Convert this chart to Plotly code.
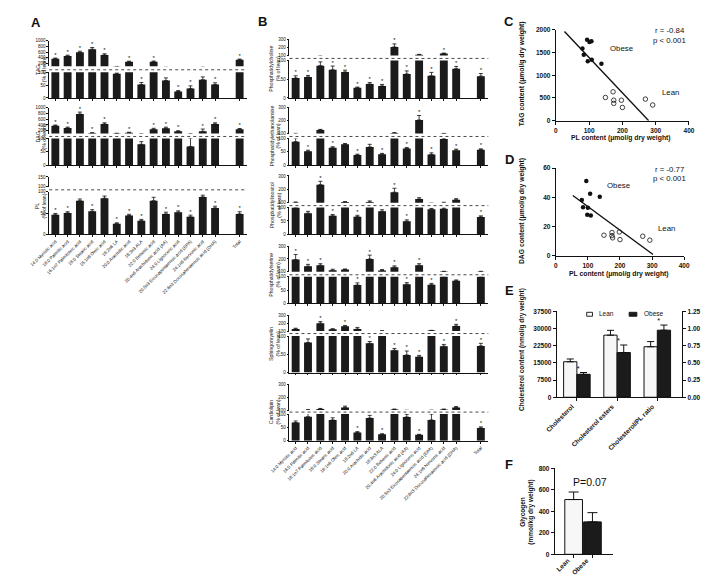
import plotly.graph_objects as go

W, H = 714, 576
FONT = "Arial, Liberation Sans, sans-serif"
INK = "#111111"
BAR = "#1b1b1b"
LEAN_FILL = "#f7f7f7"

# ------------------------------------------------------------------ data
fatty_acids = ["14:0 Myristic acid", "16:0 Palmitic acid", "16:1n7 Palmitoleic acid",
               "18:0 Stearic acid", "18:1n9 Oleic acid", "18:2n6 LA", "20:0 Arachidic acid",
               "18:3n3 ALA", "22:0 Behenic acid", "20:4n6 Arachidonic acid (AA)",
               "24:0 Lignoceric acid", "20:5n3 Eicosapentaenoic acid (EPA)",
               "24:1n9 Nervonic acid", "22:6n3 Docosahexaenoic acid (DHA)"]
total_label = "Total"

# Panel A (% of lean)
tag_vals = [370, 460, 590, 700, 500, 94, 260, 52, 260, 68, 25, 37, 71, 52, 330]
tag_err = [20, 30, 40, 60, 40, 3, 20, 8, 25, 10, 4, 10, 11, 7, 25]
tag_sig = [1, 1, 1, 1, 1, 0, 1, 1, 1, 0, 1, 1, 0, 1, 1]

dag_vals = [376, 294, 780, 118, 435, 103, 130, 78, 247, 282, 176, 70, 176, 435, 250]
dag_err = [20, 30, 70, 10, 40, 3, 15, 10, 35, 40, 20, 30, 80, 40, 25]
dag_sig = [1, 1, 1, 1, 1, 0, 1, 0, 1, 1, 1, 0, 1, 1, 1]

pl_vals = [46, 50, 79, 54, 85, 25, 44, 32, 79, 48, 52, 41, 88, 62, 48]
pl_err = [3, 3, 4, 4, 5, 2, 3, 3, 8, 4, 3, 4, 4, 4, 5]
pl_sig = [1, 1, 0, 1, 0, 1, 1, 1, 0, 1, 1, 1, 0, 1, 1]

# Panel B (% of lean)
pc_vals = [53, 56, 86, 75, 69, 27, 37, 32, 208, 64, 110, 59, 125, 78, 58]
pc_err = [6, 4, 10, 10, 5, 2, 4, 4, 38, 8, 4, 9, 5, 6, 7]
pc_sig = [1, 1, 0, 1, 1, 1, 1, 1, 1, 1, 0, 1, 1, 1, 1]

pe_vals = [88, 52, 128, 65, 78, 38, 68, 41, 104, 62, 205, 40, 98, 56, 58]
pe_err = [13, 4, 4, 4, 3, 3, 10, 3, 3, 4, 35, 6, 3, 4, 3]
pe_sig = [0, 1, 0, 1, 0, 1, 0, 1, 0, 1, 1, 1, 0, 1, 1]

pi_vals = [100, 79, 235, 69, 104, 66, 105, 86, 178, 49, 127, 94, 96, 122, 65]
pi_err = [5, 7, 25, 5, 4, 5, 8, 6, 30, 5, 10, 3, 7, 8, 4]
pi_sig = [0, 0, 1, 1, 0, 1, 0, 0, 1, 1, 0, 0, 0, 0, 1]

ps_vals = [195, 143, 151, 112, 118, 69, 200, 110, 136, 72, 151, 70, 102, 85, 101]
ps_err = [40, 15, 12, 8, 4, 8, 30, 8, 10, 6, 12, 5, 2, 3, 3]
ps_sig = [1, 1, 1, 0, 0, 1, 1, 0, 1, 1, 1, 1, 0, 0, 0]

sm_vals = [126, 82, 200, 122, 161, 126, 80, 102, 61, 48, 43, 106, 72, 165, 73]
sm_err = [10, 10, 20, 8, 10, 20, 5, 2, 5, 11, 4, 3, 5, 20, 7]
sm_sig = [0, 0, 1, 0, 1, 0, 1, 0, 1, 1, 1, 0, 1, 1, 1]

cl_vals = [68, 90, 108, 78, 121, 31, 85, 24, 105, 89, 22, 78, 105, 120, 48]
cl_err = [6, 15, 5, 8, 10, 3, 10, 2, 3, 10, 2, 22, 3, 8, 4]
cl_sig = [0, 0, 0, 0, 0, 1, 0, 1, 0, 0, 1, 0, 0, 0, 1]

# Panel C (PL vs TAG, umol/g dry weight)
c_obese_pl = [80, 84, 94, 101, 107, 96, 108, 137]
c_obese_tag = [1590, 1450, 1780, 1730, 1745, 1310, 1340, 1250]
c_lean_pl = [149, 172, 174, 174, 197, 200, 269, 291]
c_lean_tag = [510, 635, 450, 380, 450, 290, 475, 345]
c_fit_slope, c_fit_intercept, c_fit_x = -7.76, 2165, [26, 279]

# Panel D (PL vs DAG)
d_obese_pl = [95, 107, 81, 137, 85, 100, 98, 109]
d_obese_dag = [51.2, 42.5, 38.2, 40.4, 33.3, 33.0, 28.1, 27.6]
d_lean_pl = [150, 175, 175, 177, 198, 200, 271, 293]
d_lean_dag = [14.2, 16.0, 13.9, 12.4, 16.4, 11.2, 13.5, 10.8]
d_fit_slope, d_fit_intercept, d_fit_x = -0.161, 49.8, [53, 303]

# Panel E
e_cats = ["Cholesterol", "Cholesterol esters", "Cholesterol/PL ratio"]
e_lean = [15500, 27100, 0.735]
e_lean_err = [1200, 2100, 0.075]
e_obese = [10000, 19500, 0.975]
e_obese_err = [800, 3300, 0.075]

# Panel F
f_cats = ["Lean", "Obese"]
f_vals = [510, 302]
f_err = [70, 86]

# ------------------------------------------------------------------ helpers
fig = go.Figure()
layout = {}
annotations = []
shapes = []
counter = {"x": 0, "y": 0}


def new_axis(letter):
    counter[letter] += 1
    n = counter[letter]
    return (letter if n == 1 else f"{letter}{n}"), (f"{letter}axis" if n == 1 else f"{letter}axis{n}")


def px_x(a):
    return a / W


def px_y(a):
    return 1 - a / H


def note(text, x, y, size, bold=False, angle=0, xanchor="center", yanchor="middle"):
    annotations.append(dict(text=text, x=px_x(x), y=px_y(y), xref="paper", yref="paper",
                            showarrow=False, textangle=angle, xanchor=xanchor, yanchor=yanchor,
                            font=dict(family=FONT, size=size, color=INK,
                                      weight="bold" if bold else "normal")))


small_axis = dict(showline=True, linecolor=INK, linewidth=0.8, ticks="outside", ticklen=2,
                  tickwidth=0.8, tickcolor=INK, showgrid=False, zeroline=False,
                  tickfont=dict(family=FONT, size=4.5, color=INK), fixedrange=True)
big_axis = dict(showline=True, linecolor=INK, linewidth=1.1, ticks="outside", ticklen=3,
                tickwidth=1.1, tickcolor=INK, showgrid=False, zeroline=False,
                tickfont=dict(family=FONT, size=6.5, color=INK, weight="bold"), fixedrange=True)

bar_pos = [i if i < len(fatty_acids) else i + 1 for i in range(len(fatty_acids) + 1)]
bar_labels = fatty_acids + [total_label]


def broken_panel(vals, err, sig, up_range, up_ticks, title, title_x, xpx, geom, show_labels):
    xr, xname = new_axis("x")
    ylr, ylname = new_axis("y")
    yur, yuname = new_axis("y")
    up_top, up_bot, dot_y, lo_top, lo_bot = geom
    layout[xname] = dict(small_axis, domain=[px_x(xpx[0]), px_x(xpx[1])], anchor=ylr,
                         range=[-0.5, 15.6], tickmode="array", tickvals=bar_pos,
                         ticktext=bar_labels, showticklabels=show_labels, tickangle=-45)
    layout[ylname] = dict(small_axis, domain=[px_y(lo_bot), px_y(lo_top)], anchor=xr,
                          range=[0, 100], tickvals=[0, 50, 100])
    layout[yuname] = dict(small_axis, domain=[px_y(up_bot), px_y(up_top)], anchor=xr,
                          range=up_range, tickvals=up_ticks, tickformat="d")
    for yr in (ylr, yur):
        fig.add_trace(go.Bar(x=bar_pos, y=vals, width=0.64,
                             marker=dict(color=BAR, line=dict(width=0)),
                             error_y=dict(type="data", symmetric=False, array=err,
                                          arrayminus=[0] * len(err), color=INK,
                                          thickness=0.8, width=2),
                             xaxis=xr, yaxis=yr, showlegend=False, hoverinfo="skip"))
    for yr, keep in ((ylr, lambda v: v <= 100), (yur, lambda v: v > 100)):
        sx = [p for p, v, s in zip(bar_pos, vals, sig) if s and keep(v)]
        sy = [v + e for v, e, s in zip(vals, err, sig) if s and keep(v)]
        fig.add_trace(go.Scatter(x=sx, y=sy, mode="text", text=["*"] * len(sx),
                                 textposition="top center", cliponaxis=False,
                                 textfont=dict(family=FONT, size=6, color=INK),
                                 xaxis=xr, yaxis=yr, showlegend=False, hoverinfo="skip"))
    shapes.append(dict(type="line", xref="paper", yref="paper", x0=px_x(xpx[0]),
                       x1=px_x(xpx[1]), y0=px_y(dot_y), y1=px_y(dot_y),
                       line=dict(color="#333333", width=0.9, dash="dot")))
    note(title + "<br>(% of lean)", title_x, (up_top + lo_bot) / 2, 5.2, angle=-90)


# ------------------------------------------------------------------ panel A
A_X = (23, 228)
broken_panel(tag_vals, tag_err, tag_sig, [100, 1000], [200, 400, 600, 800, 1000], "TAG", 14.5,
             A_X, (29, 55, 58.5, 61, 87), False)
broken_panel(dag_vals, dag_err, dag_sig, [100, 1000], [200, 400, 600, 800, 1000], "DAG", 14.5,
             A_X, (97, 123, 126, 128, 155), False)
broken_panel(pl_vals, pl_err, pl_sig, [100, 150], [100, 150], "PL", 14.5,
             A_X, (167, 177, 180, 182, 225), True)

# ------------------------------------------------------------------ panel B
B_X = (272, 478)
b_panels = [
    (pc_vals, pc_err, pc_sig, "Phosphatidylcholine", (28, 44, 47, 49, 87)),
    (pe_vals, pe_err, pe_sig, "Phosphatidylethanolamine", (97, 123, 126, 128, 155)),
    (pi_vals, pi_err, pi_sig, "Phosphatidylinositol", (166, 193, 196, 198, 225)),
    (ps_vals, ps_err, ps_sig, "Phosphatidylserine", (237, 263, 266, 268, 295)),
    (sm_vals, sm_err, sm_sig, "Sphingomyelin", (307, 323, 325.5, 328, 365)),
    (cl_vals, cl_err, cl_sig, "Cardiolipin", (377, 403, 405, 407, 434)),
]
for k, (v, e, s, t, g) in enumerate(b_panels):
    broken_panel(v, e, s, [100, 300], [100, 200, 300], t, 257, B_X, g, k == len(b_panels) - 1)


# ------------------------------------------------------------------ panels C, D
def scatter_panel(ob_x, ob_y, le_x, le_y, slope, intercept, fit_x, xpx, ypx, yrange, yticks,
                  ytitle, r_text, obese_xy, lean_xy):
    xr, xname = new_axis("x")
    yr, yname = new_axis("y")
    layout[xname] = dict(big_axis, domain=[px_x(xpx[0]), px_x(xpx[1])], anchor=yr,
                         range=[0, 400], tickvals=[0, 100, 200, 300, 400])
    layout[yname] = dict(big_axis, domain=[px_y(ypx[1]), px_y(ypx[0])], anchor=xr,
                         range=yrange, tickvals=yticks, tickformat="d")
    fig.add_trace(go.Scatter(x=fit_x, y=[slope * x + intercept for x in fit_x], mode="lines",
                             line=dict(color=INK, width=1.4), xaxis=xr, yaxis=yr,
                             showlegend=False, hoverinfo="skip"))
    fig.add_trace(go.Scatter(x=ob_x, y=ob_y, mode="markers",
                             marker=dict(symbol="circle", size=4.5, color=INK),
                             xaxis=xr, yaxis=yr, showlegend=False, hoverinfo="skip"))
    fig.add_trace(go.Scatter(x=le_x, y=le_y, mode="markers",
                             marker=dict(symbol="circle-open", size=4.5, color=INK,
                                         line=dict(width=0.8)),
                             xaxis=xr, yaxis=yr, showlegend=False, hoverinfo="skip"))
    note(ytitle, 513, (ypx[0] + ypx[1]) / 2 - 1, 6.8, bold=True, angle=-90)
    note("PL content (μmol/g dry weight)", (xpx[0] + xpx[1]) / 2 - 1, ypx[1] + 18, 6.8, bold=True)
    note(r_text, 666, ypx[0] + 1, 7.8)
    note("p < 0.001", 666, ypx[0] + 11, 7.8)
    note("Obese", obese_xy[0], obese_xy[1], 7.8)
    note("Lean", lean_xy[0], lean_xy[1], 7.8)


scatter_panel(c_obese_pl, c_obese_tag, c_lean_pl, c_lean_tag, c_fit_slope, c_fit_intercept,
              c_fit_x, (548, 686), (18, 110), [0, 2000], [0, 500, 1000, 1500, 2000],
              "TAG content (μmol/g dry weight)", "r = -0.84", (616, 37), (667, 81))
scatter_panel(d_obese_pl, d_obese_dag, d_lean_pl, d_lean_dag, d_fit_slope, d_fit_intercept,
              d_fit_x, (548, 681), (158, 247), [0, 60], [0, 20, 40, 60],
              "DAG content (μmol/g dry weight)", "r = -0.77", (613, 176), (663, 219))

# ------------------------------------------------------------------ panel E
xe, xen = new_axis("x")
ye, yen = new_axis("y")
ye2, ye2n = new_axis("y")
layout[xen] = dict(big_axis, domain=[px_x(549), px_x(679)], anchor=ye, type="category",
                   range=[-0.5, 2.62], tickangle=-45, ticklabelshift=-5, ticklabelstandoff=-1,
                   tickfont=dict(family=FONT, size=6.5, color=INK, weight="bold"))
layout[yen] = dict(big_axis, domain=[px_y(390), px_y(303)], anchor=xe, range=[0, 37500],
                   tickvals=[0, 7500, 15000, 22500, 30000, 37500], tickformat="d")
layout[ye2n] = dict(big_axis, domain=[px_y(390), px_y(303)], anchor=xe, overlaying=ye,
                    side="right", range=[0, 1.25],
                    tickvals=[0, 0.25, 0.5, 0.75, 1.0, 1.25], tickformat=".2f")
for yr, sl in ((ye, slice(0, 2)), (ye2, slice(2, 3))):
    fig.add_trace(go.Bar(x=e_cats[sl], y=e_lean[sl], offset=-0.33, width=0.33,
                         marker=dict(color=LEAN_FILL, line=dict(color=INK, width=1)),
                         error_y=dict(type="data", symmetric=False, array=e_lean_err[sl],
                                      arrayminus=[0] * len(e_lean_err[sl]), color=INK,
                                      thickness=1, width=3.5),
                         xaxis=xe, yaxis=yr, showlegend=False, hoverinfo="skip"))
    fig.add_trace(go.Bar(x=e_cats[sl], y=e_obese[sl], offset=0.0, width=0.33,
                         marker=dict(color=BAR, line=dict(color=INK, width=1)),
                         error_y=dict(type="data", symmetric=False, array=e_obese_err[sl],
                                      arrayminus=[0] * len(e_obese_err[sl]), color=INK,
                                      thickness=1, width=3.5),
                         xaxis=xe, yaxis=yr, showlegend=False, hoverinfo="skip"))
    fig.add_trace(go.Scatter(x=e_cats[sl], y=[v + e for v, e in zip(e_obese[sl], e_obese_err[sl])],
                             mode="text", text=["*"] * len(e_obese[sl]), textposition="top right",
                             cliponaxis=False, textfont=dict(family=FONT, size=7.5, color=INK),
                             xaxis=xe, yaxis=yr, showlegend=False, hoverinfo="skip"))
note("Cholesterol content (nmol/g dry weight)", 513, 342, 6.5, bold=True, angle=-90)
note("Cholesterol / PL ratio", 709, 341, 6.5, bold=True, angle=90)
# legend
shapes.append(dict(type="rect", xref="paper", yref="paper", x0=px_x(580), x1=px_x(586),
                   y0=px_y(308), y1=px_y(304), line=dict(color=INK, width=0.9),
                   fillcolor=LEAN_FILL))
shapes.append(dict(type="rect", xref="paper", yref="paper", x0=px_x(624), x1=px_x(632),
                   y0=px_y(308), y1=px_y(304), line=dict(color=INK, width=0.9),
                   fillcolor=BAR))
note("Lean", 591, 305, 6.5, xanchor="left")
note("Obese", 637, 305, 6.5, xanchor="left")

# ------------------------------------------------------------------ panel F
xf, xfn = new_axis("x")
yf, yfn = new_axis("y")
layout[xfn] = dict(big_axis, domain=[px_x(547), px_x(607)], anchor=yf, type="category",
                   range=[-1.0, 2.08], tickangle=-45, ticklabelshift=-6, ticklabelstandoff=-4,
                   tickfont=dict(family=FONT, size=6.5, color=INK, weight="bold"))
layout[yfn] = dict(big_axis, domain=[px_y(549), px_y(462)], anchor=xf, range=[0, 800],
                   tickvals=[0, 200, 400, 600, 800], tickformat="d")
fig.add_trace(go.Bar(x=f_cats, y=f_vals, width=0.94,
                     marker=dict(color=[LEAN_FILL, BAR], line=dict(color=INK, width=1)),
                     error_y=dict(type="data", symmetric=False, array=f_err,
                                  arrayminus=[0, 0], color=INK, thickness=1, width=5),
                     xaxis=xf, yaxis=yf, showlegend=False, hoverinfo="skip"))
note("Glycogen<br>(mmol/kg dry weight)", 518, 506, 6.5, bold=True, angle=-90)
note("P=0.07", 583, 476, 10.5)

# ------------------------------------------------------------------ panel letters
for letter, (lx, ly) in {"A": (9, 11), "B": (244, 10), "C": (500, 10), "D": (500, 149),
                         "E": (500, 282), "F": (500, 458)}.items():
    note(letter, lx, ly, 13, bold=True)

fig.update_layout(
    width=W, height=H, autosize=False,
    margin=dict(l=0, r=0, t=0, b=0),
    paper_bgcolor="white", plot_bgcolor="white",
    barmode="overlay", showlegend=False,
    font=dict(family=FONT, color=INK),
    annotations=annotations, shapes=shapes,
    **layout,
)
fig.write_html("out.html")
